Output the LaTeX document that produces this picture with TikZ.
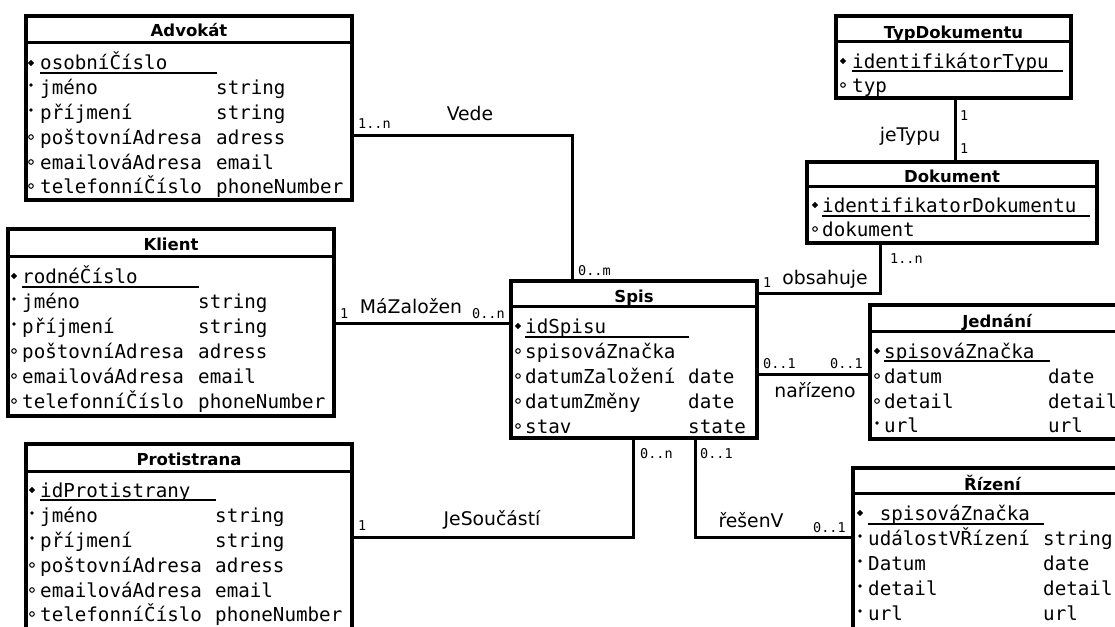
\documentclass[tikz,border=0pt]{standalone}
\usepackage{fontspec}
\setmonofont{DejaVu Sans Mono}
\newfontfamily\dvsans{DejaVu Sans}
\tikzset{
  ent/.style={draw, line width=3.1pt, inner sep=0pt, fill=white},
  sepline/.style={line width=2.8pt},
  head/.style={anchor=base, inner sep=0pt, font=\dvsans\bfseries\fontsize{16.5}{18}\selectfont},
  attr/.style={anchor=base west, inner sep=0pt, font=\ttfamily\fontsize{19.2}{22}\selectfont},
  card/.style={anchor=base west, inner sep=0pt, font=\ttfamily\fontsize{13.5}{15}\selectfont},
  rel/.style={anchor=base, inner sep=0pt, font=\dvsans\fontsize{18.8}{21}\selectfont},
  conn/.style={line width=3pt},
  keyline/.style={line width=1.4pt},
}
\newcommand\attrrows[5]{%
  \foreach \k/\y/\n/\t [count=\i] in {#5}{%
    \if\k k\fill (#2,\y-7) +(-3.2,0) -- +(0,-3.2) -- +(3.2,0) -- +(0,3.2) -- cycle;
    \else\if\k m\fill (#2,\y-9) circle (1.9);
    \else\draw[line width=1pt] (#2,\y-7) circle (2.3);\fi\fi
    \node[attr] (#1-n\i) at (#3,\y) {\n};
    \node[attr] (#1-t\i) at (#4,\y) {\t};
  }}
\begin{document}
\begin{tikzpicture}[x=1pt,y=-1pt]
\useasboundingbox (0,0) rectangle (1115,626);
\clip (0,0) rectangle (1115,626);

% ---------- connector bend points ----------
\coordinate (vA) at (572,135);
\coordinate (mz) at (0,323);
\coordinate (js) at (633,537);
\coordinate (rv) at (695,537);
\coordinate (nz) at (0,374);
\coordinate (ob) at (880,293);
\coordinate (jt) at (955,0);

% ---------- entity boxes ----------
\node[ent, minimum width=326, minimum height=184] (advokat) at (189,108) {};
\node[ent, minimum width=326, minimum height=187] (klient) at (171,322.5) {};
\node[ent, minimum width=326, minimum height=196] (protistrana) at (189,542) {};
\node[ent, minimum width=246, minimum height=157] (spis) at (634,359.5) {};
\node[ent, minimum width=254, minimum height=134] (jednani) at (997,372) {};
\node[ent, minimum width=279, minimum height=172] (rizeni) at (992.5,554) {};
\node[ent, minimum width=235, minimum height=82] (typdok) at (953.5,57) {};
\node[ent, minimum width=290, minimum height=81] (dokument) at (952,202.5) {};

\draw[conn] (advokat.east |- vA) -| (spis.north -| vA);
\draw[conn] (klient.east |- mz) -- (spis.west |- mz);
\draw[conn] (protistrana.east |- js) -| (spis.south -| js);
\draw[conn] (spis.south -| rv) |- (rizeni.west |- rv);
\draw[conn] (spis.east |- nz) -- (jednani.west |- nz);
\draw[conn] (spis.east |- ob) -| (dokument.south -| ob);
\draw[conn] (typdok.south -| jt) -- (dokument.north -| jt);

% ---------- header separators ----------
\draw[sepline] (advokat.north west) ++(0,28) -- ++(326,0);
\draw[sepline] (klient.north west) ++(0,29) -- ++(326,0);
\draw[sepline] (protistrana.north west) ++(0,29) -- ++(326,0);
\draw[sepline] (spis.north west) ++(0,27) -- ++(246,0);
\draw[sepline] (jednani.north west) ++(0,28) -- ++(254,0);
\draw[sepline] (rizeni.north west) ++(0,27) -- ++(279,0);
\draw[sepline] (typdok.north west) ++(0,27) -- ++(235,0);
\draw[sepline] (dokument.north west) ++(0,26) -- ++(290,0);

% ---------- headers ----------
\node[head] (advokat-h) at (189,37) {Advokát};
\node[head] (klient-h) at (171,250) {Klient};
\node[head] (protistrana-h) at (189,465) {Protistrana};
\node[head] (spis-h) at (634,302) {Spis};
\node[head] (jednani-h) at (997,327) {Jednání};
\node[head] (rizeni-h) at (992.5,490) {Řízení};
\node[head] (typdok-h) at (953.5,38) {TypDokumentu};
\node[head] (dokument-h) at (952,182) {Dokument};

% ---------- attributes ----------
\attrrows{adv}{31}{40}{216}{k/70/osobníČíslo/{}, m/94/jméno/string, m/119/příjmení/string, o/144/poštovníAdresa/adress, o/169/emailováAdresa/email, o/193/telefonníČíslo/phoneNumber}
\draw[keyline] (40,73) -- (217,73);

\attrrows{kli}{14}{22}{198}{k/283/rodnéČíslo/{}, m/308/jméno/string, m/333/příjmení/string, o/358/poštovníAdresa/adress, o/383/emailováAdresa/email, o/408/telefonníČíslo/phoneNumber}
\draw[keyline] (22,287) -- (199,287);

\attrrows{pro}{32}{40}{215}{k/497/idProtistrany/{}, m/522/jméno/string, m/547/příjmení/string, o/572/poštovníAdresa/adress, o/597/emailováAdresa/email, o/621/telefonníČíslo/phoneNumber}
\draw[keyline] (40,500) -- (216,500);

\attrrows{spi}{518}{525}{688}{k/333/idSpisu/{}, o/358/spisováZnačka/{}, o/383/datumZaložení/date, o/408/datumZměny/date, o/433/stav/state}
\draw[keyline] (525,337) -- (689,337);

\attrrows{jed}{877}{884}{1048}{k/358/spisováZnačka/{}, o/383/datum/date, o/408/detail/detail, m/432/url/url}
\draw[keyline] (884,361) -- (1050,361);

\attrrows{riz}{860}{868}{1043}{k/520/\ spisováZnačka/{}, m/545/událostVŘízení/string, m/570/Datum/date, m/595/detail/detail, m/620/url/url}
\draw[keyline] (868,524) -- (1044,524);

\attrrows{typ}{843}{852}{1000}{k/68/identifikátorTypu/{}, o/92/typ/{}}
\draw[keyline] (852,71) -- (1063,71);

\attrrows{dok}{815}{822}{1000}{k/212/identifikatorDokumentu/{}, o/236/dokument/{}}
\draw[keyline] (822,216) -- (1090,216);

% ---------- relationship labels ----------
\node[rel] (l-vede) at (470,120) {Vede};
\node[rel] (l-mz) at (411,313) {MáZaložen};
\node[rel] (l-js) at (492,525) {JeSoučástí};
\node[rel] (l-rv) at (751,527) {řešenV};
\node[rel] (l-nz) at (815,397) {nařízeno};
\node[rel] (l-ob) at (825,284) {obsahuje};
\node[rel] (l-jt) at (910,141) {jeTypu};

% ---------- cardinalities ----------
\node[card] (c1) at (358,128) {1..n};
\node[card] (c2) at (578,275) {0..m};
\node[card] (c3) at (340,318) {1};
\node[card] (c4) at (472,318) {0..n};
\node[card] (c5) at (358,530) {1};
\node[card] (c6) at (640,458) {0..n};
\node[card] (c7) at (700,458) {0..1};
\node[card] (c8) at (813,532) {0..1};
\node[card] (c9) at (763,368) {0..1};
\node[card] (c10) at (830,368) {0..1};
\node[card] (c11) at (763,287) {1};
\node[card] (c12) at (890,263) {1..n};
\node[card] (c13) at (960,120) {1};
\node[card] (c14) at (960,153) {1};
\end{tikzpicture}
\end{document}
